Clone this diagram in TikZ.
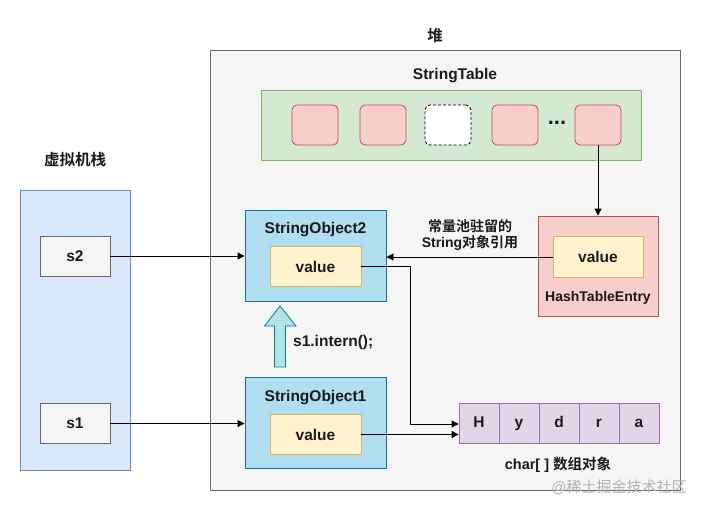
\documentclass[tikz,border=0pt]{standalone}
\usepackage{fontspec}
\setmainfont{Liberation Sans}
\newfontfamily\cjk{Noto Sans CJK SC}[BoldFont={Noto Sans CJK SC Bold}]
\usetikzlibrary{arrows.meta}
\definecolor{heapfill}{HTML}{F5F5F5}
\definecolor{heapdraw}{HTML}{666666}
\definecolor{gfill}{HTML}{D5E8D4}
\definecolor{gdraw}{HTML}{82B366}
\definecolor{rfill}{HTML}{F8CECC}
\definecolor{rdraw}{HTML}{B85450}
\definecolor{bfill}{HTML}{B1DDF0}
\definecolor{bdraw}{HTML}{10739E}
\definecolor{yfill}{HTML}{FFF2CC}
\definecolor{ydraw}{HTML}{D6B656}
\definecolor{pfill}{HTML}{E1D5E7}
\definecolor{pdraw}{HTML}{9673A6}
\definecolor{sfill}{HTML}{DAE8FC}
\definecolor{sdraw}{HTML}{6C8EBF}
\definecolor{tfill}{HTML}{B0E3E6}
\definecolor{tdraw}{HTML}{0E8088}
\definecolor{txt}{HTML}{1A1A1A}
\begin{document}
\begin{tikzpicture}[x=1pt,y=-1pt,
  every node/.style={font=\fontsize{15.5}{18}\selectfont\bfseries, text=txt},
  lab/.style={inner sep=0pt},
  conn/.style={draw=black, line width=0.9pt, -{Triangle[length=7pt,width=7pt]}},
  rbox/.style={rectangle, rounded corners=5pt, draw=rdraw, fill=rfill, minimum width=46pt, minimum height=40pt, inner sep=0pt, line width=0.8pt},
  cell/.style={rectangle, draw=pdraw, fill=pfill, minimum width=40pt, minimum height=40pt, inner sep=0pt, line width=0.8pt, text height=11pt, text depth=3pt},
  valbox/.style={rectangle, draw=ydraw, fill=yfill, minimum width=91pt, minimum height=40pt, inner sep=0pt, line width=0.8pt},
  sbox/.style={rectangle, draw=heapdraw, fill=heapfill, minimum width=70pt, minimum height=40pt, inner sep=0pt, line width=0.8pt},
  objbox/.style={rectangle, draw=bdraw, fill=bfill, minimum width=141pt, minimum height=91pt, inner sep=0pt, line width=0.9pt}
]
\useasboundingbox[fill=white] (0,0) rectangle (701,511);
% heap
\node[rectangle, draw=heapdraw, fill=heapfill, line width=0.8pt, minimum width=470pt, minimum height=440pt, inner sep=0pt] (heap) at (445,270) {};
\node[lab] (heaplab) at (435,36) {\cjk\bfseries 堆};
% string table
\node[lab] (stlab) at (455,76) {StringTable};
\node[rectangle, draw=gdraw, fill=gfill, line width=0.8pt, minimum width=380pt, minimum height=70pt, inner sep=0pt] (st) at (451,125) {};
\node[rbox] (e1) at (315,125) {};
\node[rbox] (e2) at (383,125) {};
\node[rbox, draw=black, fill=white, dash pattern=on 3pt off 2pt] (e3) at (448,125) {};
\node[lab, font=\fontsize{22}{22}\selectfont\bfseries] (dots) at (557,123) {...};
\node[rbox] (e4) at (515,125) {};
\node[rbox] (e5) at (598,125) {};
% hash table entry
\node[rectangle, draw=rdraw, fill=rfill, line width=0.8pt, minimum width=120pt, minimum height=100pt, inner sep=0pt] (hte) at (598,266) {};
\node[valbox, minimum width=90pt, minimum height=41pt] (htev) at (598,257) {value};
\node[lab, font=\fontsize{14}{16}\selectfont\bfseries] (htelab) at (598,298) {HashTableEntry};
\draw[conn] (e5.south) -- (hte.north);
% string object 2
\node[objbox] (so2) at (315.5,255.5) {};
\node[lab] (so2lab) at (315.5,230) {StringObject2};
\node[valbox] (so2v) at (315.5,266.5) {value};
% string object 1
\node[objbox] (so1) at (315.5,423) {};
\node[lab] (so1lab) at (315.5,398) {StringObject1};
\node[valbox] (so1v) at (315.5,434.5) {value};
% intern arrow
\coordinate (ibase) at (280,367);
\coordinate (itip) at (280,306);
\draw[draw=tdraw, fill=tfill, line width=0.8pt] (ibase) ++(-5.5,0) -- ++(0,-41) -- ++(-10,0) -- (itip) -- (296,326) -- ++(-10.5,0) -- ++(0,41) -- cycle;
\node[lab, anchor=west] (ilab) at (293,342) {s1.intern();};
% char array
\node[cell] (cH) at (479,423) {H};
\node[cell] (cy) at (519,423) {y};
\node[cell] (cd) at (559,423) {d};
\node[cell] (cr) at (599,423) {r};
\node[cell] (ca) at (639,423) {a};
\node[lab, font=\fontsize{14.5}{17}\selectfont\bfseries] (calab) at (558,465) {char[ ] {\cjk\bfseries 数组对象}};
% label reference
\node[lab, align=center, font=\fontsize{14}{16}\selectfont\bfseries] (reflab) at (470,235) {{\cjk\bfseries 常量池驻留的}\\String{\cjk\bfseries 对象引用}};
% stack
\node[lab] (stacklab) at (75,160) {\cjk\bfseries 虚拟机栈};
\node[rectangle, draw=sdraw, fill=sfill, line width=0.8pt, minimum width=110pt, minimum height=280pt, inner sep=0pt] (stack) at (75,330) {};
\node[sbox] (s2) at (75,256) {s2};
\node[sbox] (s1) at (75,423.5) {s1};
% connectors
\draw[conn] (s2.east) -- (s2.east -| so2.west);
\draw[conn] (s1.east) -- (s1.east -| so1.west);
\draw[conn] (htev.west) -- (htev.west -| so2.east);
\coordinate (bend1) at (410,266.5);
\coordinate (bend2) at (410,424);
\draw[conn] (so2v.east) -- (bend1) -- (bend2) -- (bend2 -| cH.west);
\draw[conn] (so1v.east) -- (so1v.east -| cH.west);
% watermark
\node[lab, text=black!30, font=\fontsize{15}{17}\selectfont] (wm) at (619,487) {@{\cjk 稀土掘金技术社区}};
\end{tikzpicture}
\end{document}
